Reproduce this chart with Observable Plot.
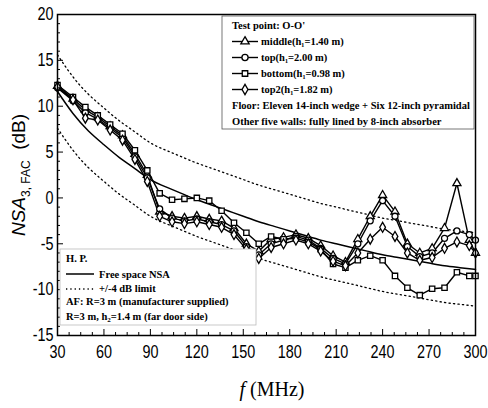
<!DOCTYPE html>
<html>
<head>
<meta charset="utf-8">
<script src="https://cdn.jsdelivr.net/npm/d3@7"></script>
<script src="https://cdn.jsdelivr.net/npm/@observablehq/plot@0.6"></script>
<style>
  html, body { margin: 0; padding: 0; background: #fff; }
  #chart { position: relative; width: 488px; height: 408px; }
</style>
</head>
<body>
<div id="chart"></div>
<script>
// ---- data ----
const freqs  = [30, 40, 48, 56, 64, 72, 80, 88, 96, 104, 112, 120, 128, 136, 144, 152, 160, 168, 176, 184, 192, 200, 208, 216, 224, 232, 240, 248, 256, 264, 272, 280, 288, 296, 300];
const middle = [12.2, 10.8, 9.6, 8.8, 7.8, 6.8, 4.8, 2.5, -1.5, -2.0, -2.2, -2.0, -2.3, -2.5, -3.3, -5.0, -5.8, -4.5, -4.3, -4.0, -4.4, -5.2, -6.3, -7.0, -4.5, -2.0, 0.3, -1.5, -5.0, -6.0, -5.5, -3.3, 1.6, -4.6, -6.0];
const top1   = [12.0, 10.6, 9.3, 8.6, 7.6, 6.6, 4.5, 2.2, -1.2, -2.2, -2.5, -2.3, -2.6, -2.9, -3.6, -5.3, -6.2, -5.0, -4.6, -4.2, -4.6, -5.5, -6.6, -7.2, -5.0, -2.5, -0.3, -2.0, -5.3, -6.4, -6.0, -4.4, -3.6, -4.0, -4.6];
const bottom = [12.3, 11.0, 9.9, 9.0, 8.0, 7.0, 5.2, 3.0, 0.5, -0.2, -0.1, 0.0, -0.3, -1.4, -2.7, -3.8, -5.0, -4.2, -4.5, -4.4, -4.8, -5.6, -7.2, -7.6, -6.8, -6.3, -6.8, -8.5, -9.8, -10.6, -9.9, -9.8, -8.1, -8.5, -8.5];
const top2   = [12.1, 10.7, 8.7, 8.5, 7.4, 6.3, 4.2, 1.8, -2.0, -2.6, -2.8, -2.6, -2.9, -3.2, -4.0, -5.6, -6.6, -5.4, -5.0, -4.6, -5.0, -5.8, -6.9, -7.4, -6.0, -4.5, -3.2, -4.2, -6.0, -6.8, -6.5, -5.5, -4.8, -5.2, -6.0];
const nsaFreqs = [30, 40, 50, 60, 70, 80, 90, 100, 110, 120, 130, 140, 150, 160, 170, 180, 190, 200, 210, 220, 230, 240, 250, 260, 270, 280, 290, 300];
const nsaFree  = [11.6, 9.2, 7.3, 5.8, 4.4, 3.2, 2.0, 1.2, 0.5, -0.2, -0.8, -1.4, -2.0, -2.6, -3.1, -3.6, -4.1, -4.6, -5.0, -5.4, -5.8, -6.2, -6.5, -6.8, -7.1, -7.4, -7.6, -7.8];
const limitDb = 4;
const xTicks = [30, 60, 90, 120, 150, 180, 210, 240, 270, 300];
const yTicks = [-15, -10, -5, 0, 5, 10, 15, 20];
const seriesNames = ["middle", "top", "bottom", "top2"];
const seriesSymbols = ["triangle", "circle", "square", "diamond"];
const seriesValues = [middle, top1, bottom, top2];
const legendTop = ["middle(h\u2081=1.40 m)", "top(h\u2081=2.00 m)", "bottom(h\u2081=0.98 m)", "top2(h\u2081=1.82 m)"];

// ---- build tables ----
const meas = [];
seriesNames.forEach((s, i) => freqs.forEach((f, j) => meas.push({s, f, v: seriesValues[i][j]})));
const nsa = nsaFreqs.map((f, i) => ({f, v: nsaFree[i], hi: nsaFree[i] + limitDb, lo: nsaFree[i] - limitDb}));
const xMinor = d3.range(30, 300.01, 7.5).filter(v => !xTicks.includes(v));
const yMinor = d3.range(-15, 20.01, 1).filter(v => !yTicks.includes(v));

const W = 488, H = 408;
const plot = Plot.plot({
  width: W, height: H,
  marginLeft: 57, marginRight: 13, marginTop: 14, marginBottom: 73,
  style: {fontFamily: "'Liberation Sans', Arial, sans-serif", background: "#fff"},
  x: {domain: [30, 300]},
  y: {domain: [-15, 20]},
  symbol: {domain: seriesNames, range: seriesSymbols},
  marks: [
    Plot.line(nsa, {x: "f", y: "hi", curve: "natural", stroke: "#000", strokeWidth: 1.3, strokeDasharray: "1.3,3.2"}),
    Plot.line(nsa, {x: "f", y: "lo", curve: "natural", stroke: "#000", strokeWidth: 1.3, strokeDasharray: "1.3,3.2"}),
    Plot.line(nsa, {x: "f", y: "v", curve: "natural", stroke: "#000", strokeWidth: 1.5}),
    Plot.line(meas, {x: "f", y: "v", z: "s", stroke: "#000", strokeWidth: 1.4}),
    Plot.dot(meas, {x: "f", y: "v", symbol: "s", r: 3, stroke: "#000", strokeWidth: 1.3, fill: "#fff"}),
    Plot.axisX({ticks: xTicks, tickSize: -6, tickPadding: 16, tickFormat: d => d, fontSize: 18, stroke: "#000", label: null}),
    Plot.axisX({ticks: xMinor, tickSize: -3, tickFormat: () => "", label: null}),
    Plot.axisY({ticks: yTicks, tickSize: -6, tickPadding: 10, tickFormat: d => d, fontSize: 18, label: null}),
    Plot.axisY({ticks: yMinor, tickSize: -3, tickFormat: () => "", label: null}),
    Plot.frame({stroke: "#000", strokeWidth: 1.5})
  ]
});
document.getElementById("chart").appendChild(plot);

// condense the tick labels (narrow sans look of the reference)
d3.select(plot).selectAll("g[aria-label^='x-axis tick label'] text, g[aria-label^='y-axis tick label'] text")
  .each(function() {
    const t = this.getAttribute("transform") || "";
    this.setAttribute("transform", t + " scale(0.8,1)");
  });

// ---- annotations / legends ----
const svg = d3.select(plot);
const serif = "'Liberation Serif', 'Times New Roman', serif";

// top-right legend box
const g1 = svg.append("g").attr("font-family", serif).attr("font-weight", "bold").attr("font-size", 10.5).attr("text-anchor", "start");
g1.append("rect").attr("x", 222).attr("y", 16).attr("width", 252).attr("height", 113).attr("fill", "#fff").attr("stroke", "#555").attr("stroke-width", 0.8);
g1.append("text").attr("x", 232).attr("y", 29).text("Test point: O-O'");
const d3syms = [d3.symbolTriangle, d3.symbolCircle, d3.symbolSquare, d3.symbolDiamond];
legendTop.forEach((t, i) => {
  const y = 45 + i * 16;
  g1.append("line").attr("x1", 232).attr("x2", 258).attr("y1", y - 3.5).attr("y2", y - 3.5).attr("stroke", "#000").attr("stroke-width", 1.4);
  g1.append("path").attr("d", d3.symbol(d3syms[i], 30)()).attr("transform", `translate(245,${y - 3.5})`).attr("fill", "#fff").attr("stroke", "#000").attr("stroke-width", 1.3);
  g1.append("text").attr("x", 261).attr("y", y).text(t);
});
g1.append("text").attr("x", 232).attr("y", 109).text("Floor: Eleven 14-inch wedge + Six 12-inch pyramidal");
g1.append("text").attr("x", 232).attr("y", 125).text("Other five walls: fully lined by 8-inch absorber");

// bottom-left legend box
const g2 = svg.append("g").attr("font-family", serif).attr("font-weight", "bold").attr("font-size", 10.5).attr("text-anchor", "start");
g2.append("rect").attr("x", 60).attr("y", 249).attr("width", 196).attr("height", 76).attr("fill", "#fff").attr("stroke", "#bbb").attr("stroke-width", 0.8);
g2.append("text").attr("x", 66).attr("y", 262).text("H. P.");
g2.append("line").attr("x1", 66).attr("x2", 94).attr("y1", 274).attr("y2", 274).attr("stroke", "#000").attr("stroke-width", 1.5);
g2.append("text").attr("x", 99).attr("y", 278).text("Free space NSA");
g2.append("line").attr("x1", 66).attr("x2", 94).attr("y1", 289).attr("y2", 289).attr("stroke", "#000").attr("stroke-width", 1.3).attr("stroke-dasharray", "1.3,3");
g2.append("text").attr("x", 99).attr("y", 292).text("+/-4 dB limit");
g2.append("text").attr("x", 66).attr("y", 305).text("AF: R=3 m (manufacturer supplied)");
const t5 = g2.append("text").attr("x", 66).attr("y", 320);
t5.append("tspan").text("R=3 m, h");
t5.append("tspan").attr("font-size", 7).attr("dy", 2).text("2");
t5.append("tspan").attr("dy", -2).text("=1.4 m (far door side)");

// axis titles
const yl = svg.append("text").attr("transform", "translate(25,175) rotate(-90)").attr("text-anchor", "middle")
  .attr("font-family", "'Liberation Sans', Arial, sans-serif").attr("font-size", 19);
yl.append("tspan").attr("font-style", "italic").text("NSA");
yl.append("tspan").attr("font-size", 12).attr("dy", 5).text("3, FAC");
yl.append("tspan").attr("dy", -5).text("  (dB)");
const xl = svg.append("text").attr("x", 272).attr("y", 396).attr("text-anchor", "middle")
  .attr("font-family", serif).attr("font-size", 20);
xl.append("tspan").attr("font-style", "italic").text("f");
xl.append("tspan").text(" (MHz)");
</script>
</body>
</html>
